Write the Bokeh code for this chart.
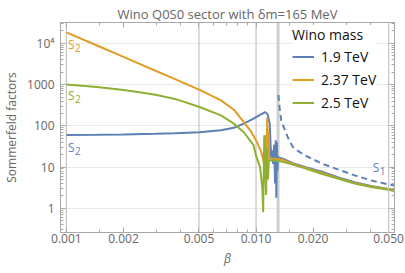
from bokeh.plotting import figure
from bokeh.models import (LogAxis, FixedTicker, CustomJSTickFormatter, Span,
                          Legend, LegendItem, ColumnDataSource)
from bokeh.core.properties import value
from bokeh.embed import file_html
from bokeh.resources import INLINE

# ---------------- data ----------------
beta_19 = [0.001, 0.00145, 0.002, 0.00295, 0.00374, 0.00504, 0.00653, 0.00764, 0.00862,
           0.0097, 0.0105, 0.01114, 0.0115, 0.0118, 0.01201, 0.01215, 0.0123, 0.01245,
           0.0126, 0.0127, 0.01279, 0.01288, 0.01295, 0.01306, 0.0132, 0.01385, 0.0156,
           0.0183, 0.0223, 0.0272, 0.0331, 0.0404, 0.05, 0.0537]
s_19 = [60, 61, 62, 64, 66, 70, 78, 90, 113,
        150, 185, 216, 190, 115, 17, 25, 12, 35,
        4, 45, 1.8, 40, 8, 18, 17, 16, 12.5,
        10, 7.7, 5.6, 4.3, 3.5, 2.95, 2.75]

beta_19_s1 = [0.01312, 0.0133, 0.01357, 0.0147, 0.0156, 0.01656, 0.0182, 0.0223,
              0.0272, 0.0331, 0.0404, 0.05, 0.0537]
s_19_s1 = [560, 280, 135, 53, 31, 25, 19, 12.1, 8.7, 6.3, 4.77, 3.8, 3.6]

beta_237 = [0.001, 0.00145, 0.002, 0.00233, 0.00295, 0.00374, 0.00504, 0.00653, 0.00764,
            0.00862, 0.00932, 0.0100, 0.01067, 0.0109, 0.0111, 0.01118, 0.0113, 0.01138,
            0.01145, 0.01155, 0.01164, 0.01172, 0.0125, 0.01306, 0.0132, 0.01385, 0.0156,
            0.0183, 0.0223, 0.0272, 0.0331, 0.0404, 0.05, 0.0537]
s_237 = [18500, 8860, 4690, 3460, 2170, 1360, 745, 415, 246,
         123, 78, 45, 23, 15, 10, 10, 60, 25,
         160, 38, 70, 16, 16, 15.5, 15.5, 15, 12,
         9.6, 7.2, 5.4, 4.1, 3.4, 2.9, 2.7]

beta_25 = [0.001, 0.00145, 0.002, 0.00233, 0.00295, 0.00374, 0.00504, 0.00653, 0.00764,
           0.00862, 0.0097, 0.0100, 0.0105, 0.0108, 0.0109, 0.01105, 0.0113, 0.0114,
           0.01155, 0.01168, 0.0125, 0.01306, 0.0132, 0.01385, 0.0156, 0.0183, 0.0223,
           0.0272, 0.0331, 0.0404, 0.05, 0.0537]
s_25 = [1000, 880, 740, 670, 570, 450, 286, 180, 113,
        70, 34, 19, 10, 3, 0.81, 59, 2.1, 30,
        5, 14.6, 14.5, 14, 14, 13.5, 11.5, 9.2, 6.8,
        5.2, 4.0, 3.3, 2.84, 2.65]

masses = ["1.9 TeV", "2.37 TeV", "2.5 TeV"]
colors = ["#5E81B5", "#E19C24", "#8FB032"]

x_ticks = [0.001, 0.002, 0.005, 0.01, 0.02, 0.05]
x_minor = [0.0015, 0.003, 0.004, 0.006, 0.007, 0.008, 0.009, 0.015, 0.03, 0.04]
y_ticks = [1, 10, 100, 1000, 10000]
y_minor = [m * d for d in [0.1, 1, 10, 100, 1000, 10000] for m in range(2, 10)]
grid_betas = [0.001, 0.005, 0.01]
threshold_beta = 0.01306

# curve labels S1 / S2
lab_x = [0.00102, 0.00102, 0.00102, 0.0412]
lab_y = [9500, 550, 30, 9.8]
lab_main = ["S", "S", "S", "S"]
lab_sub = ["2", "2", "2", "1"]
lab_c = ["#E19C24", "#8FB032", "#5E81B5", "#5E81B5"]

FONT = "Open Sans"
GRAY = "#666666"
FRAME = "#a8a8a8"

p = figure(width=405, height=273, x_axis_type="log", y_axis_type="log",
           x_range=(0.000931, 0.0537), y_range=(0.26, 32000),
           output_backend="svg", toolbar_location=None,
           min_border_left=53, min_border_right=11, min_border_top=22, min_border_bottom=41)

p.title.text = "Wino Q0S0 sector with \u03b4m=165 MeV"
p.title.align = "center"
p.title.text_font = FONT
p.title.text_font_size = "13px"
p.title.text_font_style = "normal"
p.title.text_color = GRAY
p.title.offset = 0
p.title.standoff = 0

p.outline_line_color = FRAME
p.background_fill_color = "white"
p.border_fill_color = "white"

# grids
p.xgrid.visible = False
p.ygrid.ticker = FixedTicker(ticks=y_ticks)
p.ygrid.grid_line_color = "#e8e8e8"
for b in grid_betas:
    p.add_layout(Span(location=b, dimension="height", line_color="#c4c4c4",
                      line_width=1.2, level="underlay"))
p.add_layout(Span(location=threshold_beta, dimension="height", line_color="#cfcfcf",
                  line_width=3, level="underlay"))

xfmt = CustomJSTickFormatter(code="return tick.toFixed(3);")
yfmt = CustomJSTickFormatter(code="return tick >= 10000 ? '10\u2074' : tick.toFixed(0);")
blank = CustomJSTickFormatter(code="return '';")


def style_axis(ax):
    ax.axis_line_color = FRAME
    ax.major_tick_line_color = FRAME
    ax.minor_tick_line_color = FRAME
    ax.major_tick_in = 5
    ax.major_tick_out = 0
    ax.minor_tick_in = 3
    ax.minor_tick_out = 0
    ax.major_label_text_font = FONT
    ax.major_label_text_font_size = "12px"
    ax.major_label_text_color = GRAY
    ax.axis_label_text_font = FONT
    ax.axis_label_text_font_size = "12px"
    ax.axis_label_text_color = GRAY


xa = p.xaxis[0]
xa.ticker = FixedTicker(ticks=x_ticks, minor_ticks=x_minor)
xa.formatter = xfmt
style_axis(xa)
xa.major_label_standoff = 1
xa.axis_label = "\u03b2"
xa.axis_label_text_font_style = "italic"
xa.axis_label_standoff = 4

ya = p.yaxis[0]
ya.ticker = FixedTicker(ticks=y_ticks, minor_ticks=y_minor)
ya.formatter = yfmt
style_axis(ya)
ya.major_label_standoff = 6
ya.axis_label = "Sommerfeld factors"
ya.axis_label_text_font_style = "normal"
ya.axis_label_standoff = 4

top = LogAxis(ticker=FixedTicker(ticks=x_ticks, minor_ticks=x_minor), formatter=blank)
style_axis(top)
top.major_label_standoff = 0
p.add_layout(top, "above")
right = LogAxis(ticker=FixedTicker(ticks=y_ticks, minor_ticks=y_minor), formatter=blank)
style_axis(right)
right.major_label_standoff = 0
p.add_layout(right, "right")

# curves
r19 = p.line(beta_19, s_19, line_color=colors[0], line_width=2)
r19d = p.line(beta_19_s1, s_19_s1, line_color=colors[0], line_width=2, line_dash="6 4")
r237 = p.line(beta_237, s_237, line_color=colors[1], line_width=2)
r25 = p.line(beta_25, s_25, line_color=colors[2], line_width=2)

src = ColumnDataSource(dict(x=lab_x, y=lab_y, t=lab_main, s=lab_sub, c=lab_c))
p.text(x="x", y="y", text="t", text_color="c", source=src,
       text_font=value(FONT), text_font_size="12px",
       text_align="left", text_baseline="middle")
p.text(x="x", y="y", text="s", text_color="c", source=src,
       text_font=value(FONT), text_font_size="10px", x_offset=7, y_offset=4,
       text_align="left", text_baseline="middle")

legend = Legend(items=[LegendItem(label=masses[0], renderers=[r19]),
                       LegendItem(label=masses[1], renderers=[r237]),
                       LegendItem(label=masses[2], renderers=[r25])],
                location=(232, 120), title="Wino mass")
legend.title_text_font = FONT
legend.title_text_font_size = "14px"
legend.title_text_font_style = "normal"
legend.title_text_color = "#111111"
legend.label_text_font = FONT
legend.label_text_font_size = "14px"
legend.label_text_color = "#111111"
legend.border_line_color = None
legend.background_fill_color = "white"
legend.background_fill_alpha = 1
legend.glyph_width = 22
legend.glyph_height = 19
legend.label_height = 19
legend.spacing = 4
legend.padding = 6
legend.margin = 0
legend.label_standoff = 7
legend.title_standoff = 3
p.add_layout(legend, "center")

p.add_layout(Span(location=0.05, dimension="height", line_color="#c4c4c4", line_width=1.2))

open("out.html", "w").write(file_html(p, INLINE))
